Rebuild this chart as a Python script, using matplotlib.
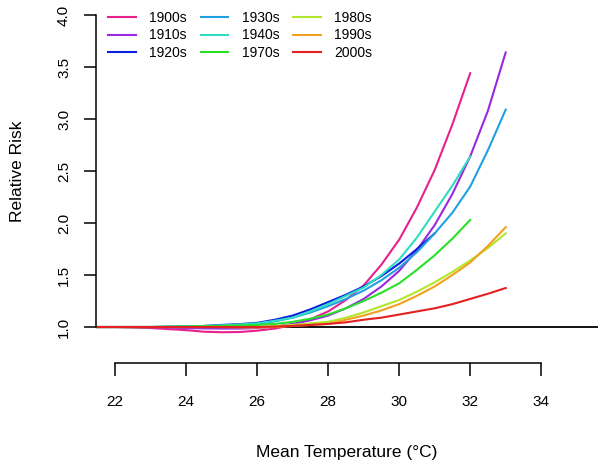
import numpy as np
import matplotlib
matplotlib.use("Agg")
import matplotlib.pyplot as plt

plt.rcParams['font.family'] = ['Liberation Sans', 'DejaVu Sans']

# mean temperature grid (deg C)
temps = [21.5, 22, 23, 24, 24.5, 25, 25.5, 26, 26.5, 27, 27.5, 28, 28.5, 29, 29.5,
         30, 30.5, 31, 31.5, 32, 32.5, 33]

# relative risk per decade (curves stop where the decade's data ends)
rr_1900s = [1.0, 1.0, 0.99, 0.97, 0.955, 0.95, 0.952, 0.965, 0.985, 1.02, 1.075, 1.15, 1.26, 1.40, 1.60,
            1.84, 2.15, 2.51, 2.95, 3.44]
rr_1910s = [1.0, 1.0, 1.0, 0.99, 0.987, 0.985, 0.985, 0.99, 1.005, 1.03, 1.065, 1.11, 1.18, 1.27, 1.39,
            1.54, 1.74, 1.98, 2.28, 2.64, 3.08, 3.64]
rr_1920s = [1.0, 1.0, 1.0, 1.005, 1.01, 1.02, 1.028, 1.04, 1.07, 1.11, 1.17, 1.24, 1.31, 1.39, 1.49,
            1.61, 1.75, 1.90]
rr_1930s = [1.0, 1.0, 1.0, 1.005, 1.01, 1.015, 1.02, 1.03, 1.055, 1.09, 1.14, 1.20, 1.27, 1.35, 1.45,
            1.57, 1.72, 1.90, 2.10, 2.35, 2.70, 3.09]
rr_1940s = [1.0, 1.0, 1.0, 1.005, 1.01, 1.015, 1.025, 1.035, 1.06, 1.09, 1.15, 1.22, 1.30, 1.38, 1.50,
            1.65, 1.86, 2.11, 2.36, 2.64]
rr_1970s = [1.0, 1.0, 1.0, 1.005, 1.007, 1.01, 1.015, 1.02, 1.03, 1.05, 1.08, 1.12, 1.18, 1.25, 1.33,
            1.42, 1.55, 1.69, 1.85, 2.03]
rr_1980s = [1.0, 1.0, 1.0, 1.0, 1.0, 1.0, 1.0, 1.0, 1.008, 1.02, 1.035, 1.05, 1.09, 1.14, 1.20,
            1.26, 1.34, 1.43, 1.53, 1.64, 1.76, 1.90]
rr_1990s = [1.0, 1.0, 1.0, 1.0, 1.0, 1.0, 0.997, 0.995, 1.0, 1.01, 1.02, 1.03, 1.07, 1.11, 1.16,
            1.22, 1.30, 1.39, 1.50, 1.62, 1.78, 1.96]
rr_2000s = [1.0, 1.0, 1.0, 1.0, 1.0, 1.0, 1.0, 1.0, 1.004, 1.01, 1.02, 1.03, 1.045, 1.07, 1.09,
            1.12, 1.15, 1.18, 1.22, 1.27, 1.32, 1.375]

labels = ['1900s', '1910s', '1920s', '1930s', '1940s', '1970s', '1980s', '1990s', '2000s']
series = [rr_1900s, rr_1910s, rr_1920s, rr_1930s, rr_1940s, rr_1970s, rr_1980s, rr_1990s, rr_2000s]
colors = ['#E8208C', '#9A28E0', '#0A1EE0', '#20A0E2', '#2EDCC2', '#28E028', '#B2E62A', '#F2A020', '#E42020']

yticks = [1.0, 1.5, 2.0, 2.5, 3.0, 3.5, 4.0]
xticks = [22, 24, 26, 28, 30, 32, 34]

fig = plt.figure(figsize=(6, 4.66), dpi=100)
ax = fig.add_axes([96 / 600, 1 - 339.5 / 466, 502 / 600, 337 / 466])

ax.axhline(1.0, color='black', lw=1.3)
for rr, lab, col in zip(series, labels, colors):
    ax.plot(temps[:len(rr)], rr, color=col, lw=1.5, label=lab)

ax.set_xlim(21.46, 35.6)
ax.set_ylim(0.88, 4.12)

# R style detached axes
for s in ['top', 'right']:
    ax.spines[s].set_visible(False)
ax.spines['left'].set_bounds(1.0, 4.0)
ax.spines['bottom'].set_bounds(22, 34)
ax.spines['bottom'].set_position(('outward', 17))
for s in ['left', 'bottom']:
    ax.spines[s].set_linewidth(1.1)

ax.set_xticks(xticks)
ax.set_xticklabels([str(t) for t in xticks])
ax.set_yticks(yticks)
ax.set_yticklabels(['%.1f' % t for t in yticks], rotation=90, va='center')
ax.tick_params(axis='x', length=9, width=1.1, pad=14, labelsize=11)
ax.tick_params(axis='y', length=9, width=1.1, pad=9, labelsize=11)

ax.set_xlabel('Mean Temperature (°C)', fontsize=12.5)
ax.xaxis.set_label_coords(0.5, -0.334)
ax.xaxis.label.set_va('center')
ax.set_ylabel('Relative Risk', fontsize=12.5)
ax.yaxis.set_label_coords(-0.157, 0.5)
ax.yaxis.label.set_va('center')

ax.legend(loc='upper left', bbox_to_anchor=(108 / 600, 1 - 11 / 466), bbox_transform=fig.transFigure,
          ncol=3, frameon=False, fontsize=10, handlelength=2.0, handletextpad=0.95,
          columnspacing=1.0, labelspacing=0.25, borderpad=0, borderaxespad=0)

fig.savefig('out.png', dpi=100)
